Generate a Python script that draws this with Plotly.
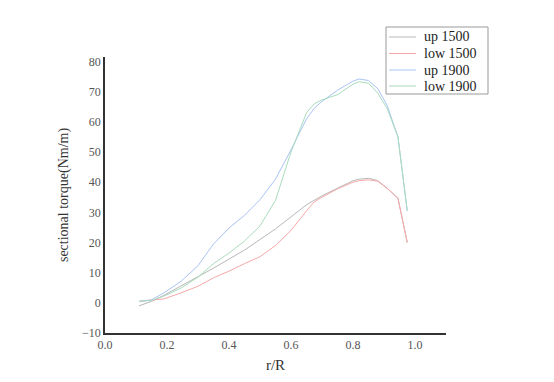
import plotly.graph_objects as go

r_R = [0.11, 0.15, 0.19, 0.245, 0.3, 0.35, 0.4, 0.45, 0.5, 0.55, 0.6, 0.65, 0.675, 0.7,
       0.75, 0.8, 0.82, 0.85, 0.88, 0.91, 0.945, 0.975]

up_1500 = [-1.0, 0.5, 2.5, 5.5, 8.5, 11.5, 14.5, 17.5, 21.0, 24.5, 28.5, 32.5, 34.0, 35.5,
           38.0, 40.5, 41.0, 41.3, 40.5, 38.0, 34.7, 20.0]
low_1500 = [0.5, 0.8, 1.3, 3.3, 5.5, 8.3, 10.5, 13.0, 15.3, 19.0, 24.0, 30.5, 33.5, 35.0,
            37.8, 40.0, 40.5, 40.8, 40.3, 38.0, 34.7, 20.0]
up_1900 = [0.5, 1.0, 3.3, 7.1, 12.3, 19.5, 24.8, 29.0, 34.2, 41.0, 50.7, 61.0, 64.5, 66.8,
           70.5, 73.5, 74.2, 73.7, 71.0, 65.5, 55.0, 30.5]
low_1900 = [0.5, 0.8, 2.2, 4.9, 8.5, 13.0, 16.5, 20.5, 25.5, 34.0, 50.0, 63.0, 66.0, 67.3,
            69.0, 72.5, 73.3, 72.8, 69.5, 64.5, 55.0, 30.5]

names = ["up 1500", "low 1500", "up 1900", "low 1900"]
series = [up_1500, low_1500, up_1900, low_1900]
colors = ["#b8b8b8", "#f6a8a8", "#a8c4f4", "#a8dcbc"]

font_family = "Liberation Serif"

fig = go.Figure()
for name, ys, c in zip(names, series, colors):
    fig.add_trace(go.Scatter(x=r_R, y=ys, mode="lines", name=name,
                             line=dict(color=c, width=1)))

# plot area in page pixels: x 104..445, y 57..333 (page has ~8px body offset)
L, T, PW, PH = 97, 49, 341, 276
W, H = 554, 382

# manual legend box (paper coordinates)
def px_x(px):
    return (px - 104) / PW

def px_y(py):
    return (333 - py) / PH

shapes = [dict(type="rect", xref="paper", yref="paper",
               x0=px_x(385), x1=px_x(487), y0=px_y(94), y1=px_y(27),
               line=dict(color="#999", width=1), fillcolor="white", layer="above")]
annotations = []
row_y = [37, 53.5, 70, 86]
for name, c, ry in zip(names, colors, row_y):
    shapes.append(dict(type="line", xref="paper", yref="paper",
                       x0=px_x(388), x1=px_x(415), y0=px_y(ry), y1=px_y(ry),
                       line=dict(color=c, width=1), layer="above"))
    annotations.append(dict(xref="paper", yref="paper", x=px_x(421), y=px_y(ry),
                            xanchor="left", yanchor="middle", showarrow=False,
                            text=name, font=dict(family=font_family, size=14, color="#222")))

fig.update_layout(
    width=W, height=H,
    margin=dict(l=L, r=W - L - PW, t=T, b=H - T - PH, autoexpand=False),
    paper_bgcolor="white", plot_bgcolor="white",
    font=dict(family=font_family, size=12, color="#444"),
    showlegend=False,
    shapes=shapes,
    annotations=annotations,
    xaxis=dict(range=[0, 1.1], tickvals=[0, 0.2, 0.4, 0.6, 0.8, 1.0],
               ticktext=["0.0", "0.2", "0.4", "0.6", "0.8", "1.0"],
               showgrid=False, zeroline=False, showline=True, linecolor="#333",
               linewidth=1.5, ticks="", tickfont=dict(size=12, color="#555"),
               title=dict(text="r/R", font=dict(size=15, color="#333"), standoff=8)),
    yaxis=dict(range=[-10, 81.5], tickvals=list(range(-10, 81, 10)),
               showgrid=False, zeroline=False, showline=True, linecolor="#333",
               linewidth=1.5, ticks="", tickfont=dict(size=12, color="#555"),
               title=dict(text="sectional torque(Nm/m)", font=dict(size=14, color="#333"),
                          standoff=10)),
)

fig.write_html("out.html")
